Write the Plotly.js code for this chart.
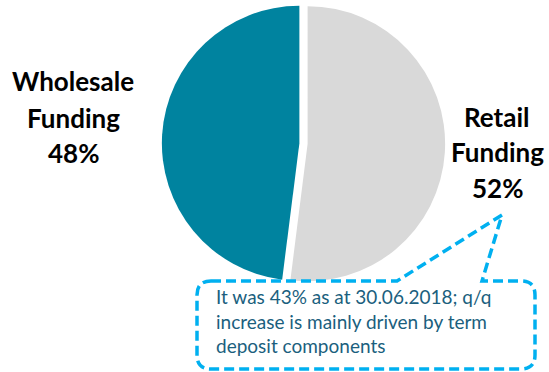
<!DOCTYPE html>
<html><head><meta charset="utf-8">
<script src="https://cdn.plot.ly/plotly-3.0.1.min.js"></script>
<style>body{margin:0;background:#fff;}</style>
</head><body><div id="chart" style="width:549px;height:372px;"></div>
<script>
// ---- data ----
const categories = ["Retail Funding", "Wholesale Funding"];
const shares = [52, 48];
const sliceColors = ["#d9d9d9", "#00839f"];
const labelLines = [["Retail", "Funding"], ["Wholesale", "Funding"]];
const calloutLines = ["It was 43% as at 30.06.2018; q/q", "increase is mainly driven by term", "deposit components"];

// ---- layout helpers (pixel -> paper) ----
const W = 549, H = 372;
const px = x => x / W;
const py = y => 1 - y / H;

// pie geometry
const cx = 303.5, cy = 143.5, R = 137.5, pull = 0.03;
const half = R * (1 + pull);
const domX = [px(cx - half), px(cx + half)];
const domY = [py(cy + half), py(cy - half)];

const trace = {
  type: "pie",
  labels: categories,
  values: shares,
  sort: false,
  direction: "clockwise",
  rotation: 0,
  pull: shares.map(() => pull),
  marker: {colors: sliceColors, line: {width: 0}},
  textinfo: "none",
  hoverinfo: "none",
  showlegend: false,
  domain: {x: domX, y: domY}
};

// label annotations
const labelPos = [{x: 497, y: [117, 152, 188]}, {x: 73, y: [81, 118, 153]}];
const annotations = [];
categories.forEach((c, i) => {
  const lines = labelLines[i].concat([shares[i] + "%"]);
  lines.forEach((t, k) => {
    annotations.push({
      text: "<b>" + t + "</b>", showarrow: false,
      xref: "paper", yref: "paper",
      x: px(labelPos[i].x), y: py(labelPos[i].y[k]),
      xanchor: "center", yanchor: "middle",
      font: {family: "Lato, 'Open Sans', sans-serif", size: 26, color: "#000"}
    });
  });
});
annotations.push({
  text: calloutLines.join("<br>"), showarrow: false, align: "left",
  xref: "paper", yref: "paper", x: px(214), y: py(283),
  xanchor: "left", yanchor: "top",
  font: {family: "Lato, 'Open Sans', sans-serif", size: 19, color: "#1b5f7e"}
});

// callout shape
const L = 197, Rt = 535, T = 281, B = 369, r = 14;
const bl = 397, br = 482, tipX = 502, tipY = 215;
const P = (x, y) => px(x) + "," + py(y);
const path = "M" + P(L + r, T) + " L" + P(bl, T) + " L" + P(tipX, tipY) + " L" + P(br, T) +
  " L" + P(Rt - r, T) + " Q" + P(Rt, T) + " " + P(Rt, T + r) +
  " L" + P(Rt, B - r) + " Q" + P(Rt, B) + " " + P(Rt - r, B) +
  " L" + P(L + r, B) + " Q" + P(L, B) + " " + P(L, B - r) +
  " L" + P(L, T + r) + " Q" + P(L, T) + " " + P(L + r, T) + " Z";

const layout = {
  width: W, height: H,
  margin: {l: 0, r: 0, t: 0, b: 0},
  paper_bgcolor: "#fff", plot_bgcolor: "#fff",
  showlegend: false,
  annotations: annotations,
  shapes: [{type: "path", xref: "paper", yref: "paper", path: path,
    line: {color: "#00b0f0", width: 3.5, dash: "10px,5px"}, fillcolor: "rgba(255,255,255,0)", layer: "above"}]
};
Plotly.newPlot("chart", [trace], layout, {staticPlot: true, displayModeBar: false});
</script></body></html>
